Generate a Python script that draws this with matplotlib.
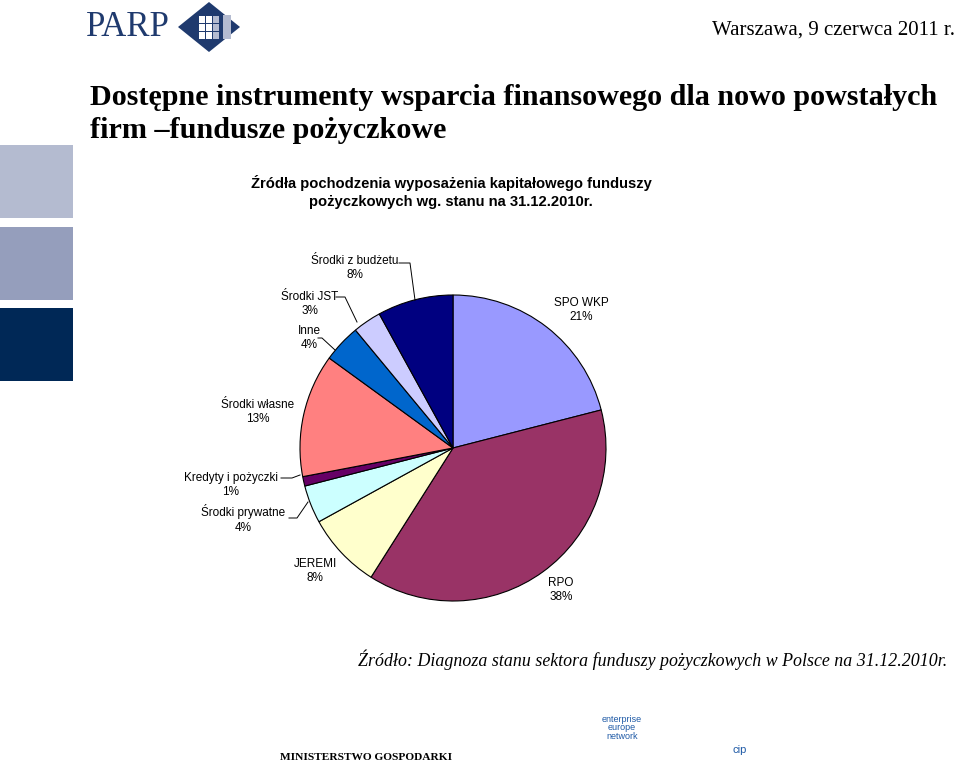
import matplotlib.pyplot as plt
import matplotlib.patches as mpatches
import numpy as np

# Data
labels = ["SPO WKP", "RPO", "JEREMI", "Środki prywatne", "Kredyty i pożyczki",
          "Środki własne", "Inne", "Środki JST", "Środki z budżetu"]
shares = [21, 38, 8, 4, 1, 13, 4, 3, 8]
colors = ["#9999FF", "#993366", "#FFFFCC", "#CCFFFF", "#660066",
          "#FF8080", "#0066CC", "#CCCCFF", "#000080"]

W, H = 960, 768
fig = plt.figure(figsize=(9.6, 7.68), dpi=100)
ax = fig.add_axes([0, 0, 1, 1])
ax.set_xlim(0, W)
ax.set_ylim(0, H)
ax.set_aspect("equal")
ax.axis("off")


def Y(py):
    # convert pixel row (top-down) to axes y
    return H - py


# left decorative blocks
for top, col in [(145, "#B4BBD0"), (227, "#959EBC"), (308, "#002856")]:
    ax.add_patch(mpatches.Rectangle((0, Y(top + 73)), 73, 73, color=col, lw=0))

# PARP logo
ax.text(86, Y(27), "PARP", family="Liberation Serif", fontsize=25,
        color="#1F3A6E", va="center", ha="left")
cx, cy = 209, Y(27)
ax.add_patch(mpatches.Polygon([(cx - 31, cy), (cx, cy + 25), (cx + 31, cy), (cx, cy - 25)],
                              closed=True, color="#1F3A6E", lw=0))
for i in range(3):
    for j in range(3):
        ax.add_patch(mpatches.Rectangle((cx - 10 + i * 7, cy - 12 + j * 8), 6, 7,
                                        color="white" if i < 2 else "#B4BBD0", lw=0))
ax.add_patch(mpatches.Rectangle((cx + 14, cy - 12), 8, 24, color="#B4BBD0", lw=0))

ax.text(955, Y(30), "Warszawa, 9 czerwca 2011 r.", family="Liberation Serif",
        fontsize=15, ha="right", va="center")

ax.text(90, Y(105), "Dostępne instrumenty wsparcia finansowego dla nowo powstałych",
        family="Liberation Serif", fontweight="bold", fontsize=21.7, ha="left", va="baseline")
ax.text(90, Y(138), "firm –fundusze pożyczkowe",
        family="Liberation Serif", fontweight="bold", fontsize=21.7, ha="left", va="baseline")

ax.text(451, Y(192), "Źródła pochodzenia wyposażenia kapitałowego funduszy\npożyczkowych wg. stanu na 31.12.2010r.",
        family="Liberation Sans", fontweight="bold", fontsize=10.6, ha="center", va="center",
        linespacing=1.4)

# pie
pc = (453, Y(448))
R = 153
ax.pie(shares, colors=colors, startangle=90, counterclock=False, center=pc, radius=R,
       wedgeprops=dict(edgecolor="black", linewidth=0.8))
ax.set_xlim(0, W)
ax.set_ylim(0, H)

# label placement (pixel coords of text centre) and optional leader line
label_pos = [(581, 310), (561, 590), (315, 571), (243, 519), (231, 485),
             (258, 412), (309, 338), (310, 304), (355, 268)]
leaders = {
    8: [(399, 263), (410, 263), (415, 300)],
    7: [(336, 297), (345, 297), (357, 322)],
    6: [(318, 338), (322, 338), (335, 350)],
    4: [(281, 478), (292, 478), (300, 475)],
    3: [(289, 518), (297, 518), (308, 502)],
}
for i, (name, val) in enumerate(zip(labels, shares)):
    x, y = label_pos[i]
    ax.text(x, Y(y), f"{name}\n{val}%", family="Liberation Sans", fontsize=8.5,
            ha="center", va="center", linespacing=1.3)
    if i in leaders:
        pts = leaders[i]
        ax.plot([p[0] for p in pts], [Y(p[1]) for p in pts], color="black", lw=0.7)

ax.text(358, Y(660), "Źródło: Diagnoza stanu sektora funduszy pożyczkowych w Polsce na 31.12.2010r.",
        family="Liberation Serif", style="italic", fontsize=12.9, ha="left", va="center")

# footer
ax.text(366, Y(758), "MINISTERSTWO GOSPODARKI", family="Liberation Serif",
        fontweight="bold", fontsize=8.2, ha="center", va="center")
ax.text(622, Y(728), "enterprise\neurope\nnetwork", family="Liberation Sans",
        fontsize=6.5, color="#1F5AA6", ha="center", va="center", linespacing=0.9)
ax.text(740, Y(750), "cip", family="Liberation Sans", fontsize=8, color="#1F5AA6",
        ha="center", va="center")

fig.savefig("out.png", dpi=100)
